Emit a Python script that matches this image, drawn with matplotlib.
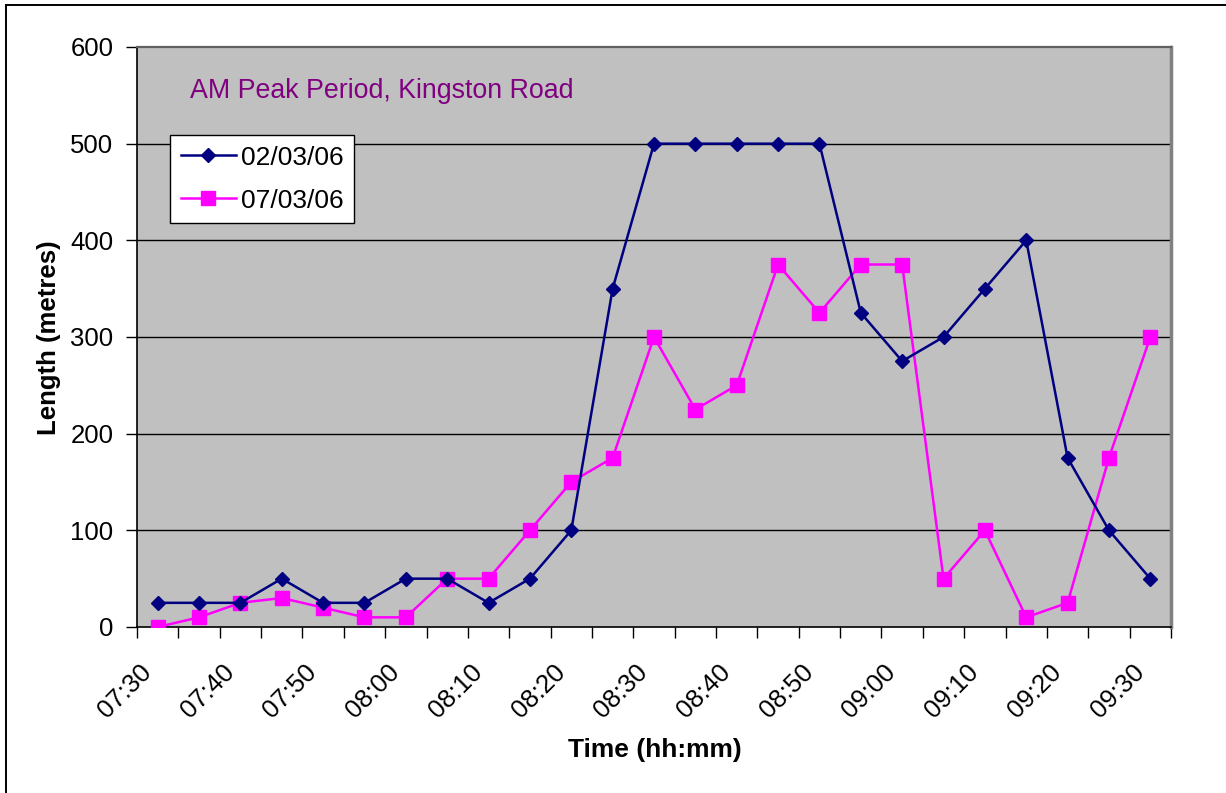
import matplotlib
matplotlib.use("Agg")
import matplotlib.pyplot as plt
import matplotlib.transforms as mtransforms
from matplotlib.lines import Line2D
import numpy as np

# Queue length observations every 5 minutes, 07:30 - 09:30
times = ["07:30", "07:35", "07:40", "07:45", "07:50", "07:55", "08:00", "08:05",
         "08:10", "08:15", "08:20", "08:25", "08:30", "08:35", "08:40", "08:45",
         "08:50", "08:55", "09:00", "09:05", "09:10", "09:15", "09:20", "09:25",
         "09:30"]
series_0203 = [25, 25, 25, 50, 25, 25, 50, 50, 25, 50, 100, 350, 500, 500, 500,
               500, 500, 325, 275, 300, 350, 400, 175, 100, 50]
series_0703 = [0, 10, 25, 30, 20, 10, 10, 50, 50, 100, 150, 175, 300, 225, 250,
               375, 325, 375, 375, 50, 100, 10, 25, 175, 300]
label_0203 = "02/03/06"
label_0703 = "07/03/06"
chart_title = "AM Peak Period, Kingston Road"
y_ticks = [0, 100, 200, 300, 400, 500, 600]

W, H = 1226, 793
fig = plt.figure(figsize=(W / 100, H / 100), dpi=100)
fig.patch.set_facecolor("white")

ax = fig.add_axes([137 / W, 1 - 627 / H, (1171 - 137) / W, (627 - 47) / H])
ax.set_facecolor("#C0C0C0")

x = np.arange(len(times))
ax.plot(x, series_0203, color="#000080", lw=1.8, marker="D", ms=7.2,
        mfc="#000080", mec="#000080", label=label_0203, zorder=4)
ax.plot(x, series_0703, color="#FF00FF", lw=1.8, marker="s", ms=10,
        mfc="#FF00FF", mec="#FF00FF", label=label_0703, zorder=3)

ax.set_xlim(-0.5, len(times) - 0.5)
ax.set_ylim(0, 600)

# y axis
ax.set_yticks(y_ticks)
ax.set_yticklabels([str(v) for v in y_ticks])
ax.tick_params(axis="y", direction="out", length=8, width=1, pad=9,
               labelsize=18.5, colors="black")
for v in y_ticks[1:-1]:
    ax.axhline(v, color="black", lw=1.0, zorder=1)

# x axis: tick marks at category boundaries, labels every 10 minutes
ax.set_xticks(np.arange(-0.5, len(times), 1.0), minor=True)
ax.set_xticks(x[::2])
ax.set_xticklabels(times[::2], rotation=45, ha="right", va="center",
                   rotation_mode="anchor")
ax.tick_params(axis="x", which="minor", direction="out", length=8, width=1)
ax.tick_params(axis="x", which="major", length=0, pad=30, labelsize=18.5)
offset = mtransforms.ScaledTranslation(-10 / 100, 0, fig.dpi_scale_trans)
for lbl in ax.get_xticklabels():
    lbl.set_transform(lbl.get_transform() + offset)

for side in ("left", "bottom"):
    ax.spines[side].set_color("black")
    ax.spines[side].set_linewidth(1.2)
ax.spines["top"].set_color("#606060")
ax.spines["top"].set_linewidth(1.6)
ax.spines["right"].set_color("#808080")
ax.spines["right"].set_linewidth(2.5)

for t in ax.get_xticklabels() + ax.get_yticklabels():
    t.set_fontfamily("Liberation Sans")

ax.text((190 - 137) / 1034, (627 - 91) / 580, chart_title,
        transform=ax.transAxes, color="#800080", fontsize=19.3,
        family="Liberation Sans", ha="left", va="center")

leg = ax.legend(loc="upper left", bbox_to_anchor=(33 / 1034, (627 - 135) / 580),
                borderaxespad=0, frameon=True, fancybox=False, shadow=False,
                prop={"family": "Liberation Sans", "size": 19},
                handlelength=2.1, handletextpad=0.2, borderpad=0.4,
                labelspacing=0.72)
leg.get_frame().set_edgecolor("black")
leg.get_frame().set_linewidth(1.0)
leg.get_frame().set_facecolor("white")
leg.get_frame().set_alpha(1)

fig.text(49 / W, 1 - 338 / H, "Length (metres)", rotation=90, ha="center",
         va="center", fontsize=18.5, fontweight="bold", family="Liberation Sans")
fig.text(655 / W, 1 - 750 / H, "Time (hh:mm)", ha="center", va="center",
         fontsize=19, fontweight="bold", family="Liberation Sans")

# chart frame: top and left edges
fig.add_artist(Line2D([6 / W, 1.0], [1 - 5 / H, 1 - 5 / H],
                      transform=fig.transFigure, color="black", lw=1.4))
fig.add_artist(Line2D([6 / W, 6 / W], [1 - 5 / H, 0.0],
                      transform=fig.transFigure, color="black", lw=1.4))

fig.savefig("out.png", dpi=100, facecolor="white")
